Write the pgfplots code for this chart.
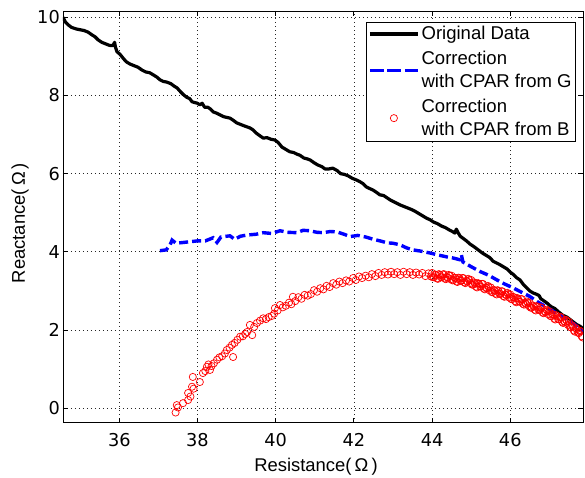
\documentclass[border=0pt]{standalone}
\usepackage{pgfplots}
\pgfplotsset{compat=1.18}
\usepackage{fontspec}
\setmainfont{Liberation Sans}
\newfontfamily\dejavu{DejaVu Sans}
\pgfplotsset{
  longline legend/.style={legend image code/.code={\draw[##1] (0bp,0bp) -- (48bp,0bp);}},
  longdash legend/.style={legend image code/.code={\draw[##1, dash pattern=on 14bp off 3.5bp] (0bp,0bp) -- (48bp,0bp);}},
  circle legend/.style={legend image code/.code={\draw[draw=none] (0bp,0bp) -- (48bp,0bp); \draw[##1] plot coordinates {(24bp,0bp)};}},
}

\begin{document}
\begin{tikzpicture}
\useasboundingbox (-63bp,-55.3bp) rectangle (522bp,422.7bp);
\begin{axis}[
  at={(0,0)}, anchor=south west,
  scale only axis, width=520bp, height=411.7bp,
  xmin=34.56, xmax=47.86, ymin=-0.37, ymax=10.16,
  xtick={36,38,...,46}, ytick={0,2,...,10},
  tick align=inside, major tick length=5bp,
  grid=major,
  major grid style={black!85, line width=0.7bp, dash pattern=on 1.1bp off 2.9bp},
  axis line style={black, line width=0.9bp},
  every tick/.style={black, line width=0.9bp},
  /pgf/number format/assume math mode=true,
  tick label style={font=\dejavu\fontsize{17.8}{20}\selectfont, inner sep=0pt},
  xticklabel style={anchor=base, yshift=-24bp},
  yticklabel style={anchor=east, xshift=-3bp},
  xlabel={Resistance(\,Ω\,)}, ylabel={Reactance(\,Ω\,)},
  label style={font=\fontsize{18.5}{20}\selectfont},
  xlabel style={at={(axis description cs:0.4865,-0.1197)}, anchor=base},
  ylabel style={at={(axis description cs:-0.0827,0.485)}, anchor=center},
  clip marker paths=true,
  legend cell align=left,
  legend style={at={(axis description cs:0.9865,0.973)}, anchor=north east,
    draw=black, line width=0.8bp, fill=white,
    font=\fontsize{18.6}{23}\selectfont,
    nodes={align=left}, inner xsep=2bp, inner ysep=2bp, row sep=6bp},
]
\addplot[black, line width=3.2bp, line join=round, longline legend] coordinates {
(34.56,10.00) (34.62,9.88) (34.70,9.80) (34.78,9.74) (34.90,9.70) (35.00,9.68)
(35.10,9.66) (35.20,9.62) (35.30,9.55) (35.38,9.50) (35.46,9.42) (35.55,9.36)
(35.65,9.32) (35.75,9.28) (35.84,9.28) (35.88,9.36) (35.90,9.24) (35.94,9.12)
(36.02,9.05) (36.10,8.95) (36.18,8.86) (36.28,8.80) (36.38,8.76) (36.48,8.72)
(36.58,8.65) (36.68,8.60) (36.78,8.58) (36.88,8.52) (36.96,8.47) (37.04,8.40)
(37.12,8.36) (37.22,8.34) (37.32,8.30) (37.40,8.24) (37.48,8.19) (37.56,8.10)
(37.64,8.02) (37.73,7.95) (37.80,7.92) (37.86,7.84) (37.92,7.82) (38.00,7.80)
(38.06,7.76) (38.12,7.80) (38.18,7.70) (38.26,7.70) (38.32,7.66) (38.40,7.58)
(38.48,7.55) (38.58,7.50) (38.66,7.46) (38.74,7.44) (38.83,7.42) (38.92,7.36)
(39.00,7.30) (39.10,7.26) (39.20,7.22) (39.34,7.17) (39.42,7.12) (39.50,7.04)
(39.58,6.98) (39.68,6.91) (39.78,6.92) (39.88,6.88) (39.98,6.86) (40.06,6.80)
(40.16,6.68) (40.26,6.62) (40.36,6.56) (40.46,6.54) (40.54,6.50) (40.62,6.47)
(40.72,6.40) (40.80,6.38) (40.88,6.35) (40.98,6.28) (41.08,6.22) (41.18,6.18)
(41.26,6.12) (41.36,6.12) (41.46,6.14) (41.57,6.08) (41.66,6.00) (41.76,5.98)
(41.86,5.94) (41.96,5.88) (42.06,5.84) (42.16,5.79) (42.24,5.74) (42.32,5.66)
(42.40,5.62) (42.49,5.58) (42.58,5.52) (42.66,5.46) (42.76,5.44) (42.85,5.38)
(42.94,5.32) (43.02,5.28) (43.10,5.24) (43.18,5.20) (43.28,5.16) (43.38,5.12)
(43.48,5.08) (43.56,5.04) (43.66,4.98) (43.76,4.92) (43.86,4.86) (43.95,4.82)
(44.04,4.76) (44.14,4.72) (44.24,4.66) (44.34,4.62) (44.44,4.56) (44.52,4.52)
(44.58,4.48) (44.62,4.58) (44.66,4.50) (44.72,4.40) (44.80,4.34) (44.88,4.28)
(44.97,4.20) (45.06,4.14) (45.14,4.08) (45.22,4.02) (45.30,3.96) (45.40,3.90)
(45.48,3.85) (45.56,3.76) (45.64,3.72) (45.72,3.68) (45.82,3.62) (45.92,3.56)
(46.00,3.48) (46.08,3.42) (46.16,3.34) (46.25,3.28) (46.34,3.16) (46.42,3.08)
(46.50,3.00) (46.58,2.95) (46.66,2.92) (46.74,2.88) (46.78,2.80) (46.84,2.76)
(46.94,2.69) (47.04,2.60) (47.14,2.55) (47.24,2.46) (47.34,2.38) (47.45,2.33)
(47.54,2.26) (47.62,2.20) (47.70,2.14) (47.78,2.10) (47.86,2.04)
};
\addlegendentry{Original Data}
\addplot[blue, line width=3.4bp, dash pattern=on 9bp off 4bp, longdash legend] coordinates {
(37.04,4.03) (37.20,4.05) (37.30,4.18) (37.35,4.30) (37.45,4.22) (37.73,4.25)
(38.00,4.28) (38.20,4.28) (38.40,4.36) (38.50,4.24) (38.60,4.38) (38.83,4.41)
(38.95,4.32) (39.10,4.40) (39.27,4.43) (39.50,4.45) (39.68,4.49) (39.90,4.47)
(40.11,4.54) (40.30,4.50) (40.54,4.49) (40.70,4.55) (40.88,4.54) (41.05,4.50)
(41.21,4.49) (41.40,4.52) (41.57,4.51) (41.75,4.45) (41.90,4.39) (42.10,4.42)
(42.30,4.38) (42.50,4.32) (42.67,4.28) (42.85,4.23) (43.00,4.22) (43.18,4.18)
(43.35,4.10) (43.51,4.05) (43.70,4.02) (43.95,3.97) (44.15,3.92) (44.38,3.87)
(44.55,3.84) (44.70,3.80) (44.75,3.92) (44.79,3.74) (45.00,3.62) (45.22,3.50)
(45.45,3.40) (45.66,3.28) (45.85,3.18) (46.07,3.08) (46.30,2.96) (46.50,2.86)
(46.70,2.72) (46.94,2.58) (47.20,2.42) (47.45,2.27) (47.65,2.14) (47.86,1.97)
};
\addlegendentry{Correction\\with CPAR from G}
\addplot[red, only marks, mark=o, mark size=3.6bp, mark options={line width=0.7bp}, circle legend] coordinates {
(37.44,-0.11) (37.47,0.08) (37.50,0.02) (37.63,0.13) (37.76,0.21) (37.76,0.39)
(37.82,0.30) (37.86,0.55) (37.90,0.50) (37.88,0.80) (38.06,0.67) (38.14,0.90)
(38.20,0.95) (38.24,1.06) (38.32,0.98) (38.28,1.12) (38.36,1.08) (38.42,1.15)
(38.50,1.24) (38.56,1.30) (38.63,1.33) (38.70,1.40) (38.75,1.49) (38.82,1.55)
(38.91,1.31) (38.88,1.62) (38.95,1.67) (39.02,1.75) (39.09,1.83) (39.16,1.84)
(39.22,1.90) (39.27,1.95) (39.40,1.87) (39.34,2.13) (39.45,2.08) (39.52,2.18)
(39.60,2.24) (39.68,2.30) (39.75,2.28) (39.82,2.33) (39.90,2.36) (39.98,2.56)
(39.96,2.42) (40.05,2.50) (40.11,2.64) (40.18,2.58) (40.26,2.62) (40.34,2.70)
(40.40,2.66) (40.44,2.85) (40.50,2.74) (40.58,2.84) (40.66,2.80) (40.74,2.90)
(40.82,2.88) (40.90,2.92) (40.98,3.02) (41.06,2.98) (41.14,3.07) (41.22,3.04)
(41.30,3.13) (41.38,3.10) (41.47,3.20) (41.55,3.16) (41.63,3.24) (41.71,3.20)
(41.80,3.27) (41.88,3.24) (41.98,3.33) (42.05,3.28) (42.13,3.37) (42.21,3.33)
(42.30,3.39) (42.38,3.35) (42.46,3.43) (42.55,3.38) (42.63,3.46) (42.71,3.41)
(42.79,3.48) (42.87,3.42) (42.95,3.49) (43.03,3.43) (43.11,3.48) (43.19,3.41)
(43.27,3.49) (43.35,3.43) (43.43,3.48) (43.51,3.41) (43.59,3.47) (43.67,3.42)
(43.75,3.46) (43.83,3.38) (43.91,3.45) (43.97,3.37)
(44.00,3.46) (44.05,3.35) (44.10,3.41) (44.15,3.31) (44.20,3.41) (44.25,3.35)
(44.30,3.43) (44.35,3.30) (44.40,3.34) (44.45,3.39) (44.50,3.39) (44.55,3.28)
(44.60,3.33) (44.65,3.23) (44.70,3.33) (44.75,3.26) (44.80,3.33) (44.85,3.20)
(44.90,3.24) (44.95,3.28) (45.00,3.28) (45.05,3.16) (45.10,3.20) (45.15,3.09)
(45.20,3.18) (45.25,3.11) (45.30,3.18) (45.35,3.04) (45.40,3.07) (45.45,3.10)
(45.50,3.09) (45.55,2.97) (45.60,3.01) (45.65,2.91) (45.70,3.00) (45.75,2.92)
(45.80,2.99) (45.85,2.85) (45.90,2.89) (45.95,2.92) (46.00,2.91) (46.05,2.79)
(46.10,2.83) (46.15,2.71) (46.20,2.80) (46.25,2.72) (46.30,2.79) (46.35,2.65)
(46.40,2.67) (46.45,2.70) (46.50,2.69) (46.55,2.57) (46.60,2.61) (46.65,2.50)
(46.70,2.59) (46.75,2.51) (46.80,2.57) (46.85,2.43) (46.90,2.46) (46.95,2.49)
(47.00,2.48) (47.05,2.35) (47.10,2.39) (47.15,2.27) (47.20,2.35) (47.25,2.27)
(47.30,2.33) (47.35,2.18) (47.40,2.20) (47.45,2.23) (47.50,2.21) (47.55,2.07)
(47.60,2.09) (47.65,1.96) (47.70,2.02) (47.75,1.92) (47.80,1.97) (47.85,1.81)
(44.025,3.35) (44.075,3.42) (44.125,3.32) (44.175,3.43) (44.225,3.35) (44.275,3.42)
(44.325,3.32) (44.375,3.36) (44.425,3.41) (44.475,3.30) (44.525,3.27) (44.575,3.34)
(44.625,3.24) (44.675,3.34) (44.725,3.26) (44.775,3.33) (44.825,3.22) (44.875,3.26)
(44.925,3.31) (44.975,3.20) (45.025,3.16) (45.075,3.22) (45.125,3.11) (45.175,3.20)
(45.225,3.12) (45.275,3.18) (45.325,3.06) (45.375,3.09) (45.425,3.13) (45.475,3.01)
(45.525,2.97) (45.575,3.03) (45.625,2.93) (45.675,3.02) (45.725,2.93) (45.775,2.99)
(45.825,2.87) (45.875,2.91) (45.925,2.95) (45.975,2.83) (46.025,2.79) (46.075,2.85)
(46.125,2.74) (46.175,2.82) (46.225,2.73) (46.275,2.79) (46.325,2.67) (46.375,2.70)
(46.425,2.73) (46.475,2.61) (46.525,2.57) (46.575,2.63) (46.625,2.52) (46.675,2.61)
(46.725,2.52) (46.775,2.58) (46.825,2.45) (46.875,2.48) (46.925,2.52) (46.975,2.40)
(47.025,2.36) (47.075,2.41) (47.125,2.29) (47.175,2.38) (47.225,2.28) (47.275,2.33)
(47.325,2.21) (47.375,2.23) (47.425,2.26) (47.475,2.13) (47.525,2.08) (47.575,2.12)
(47.625,1.99) (47.675,2.05) (47.725,1.94) (47.775,1.98) (47.825,1.84)
};
\addlegendentry{Correction\\with CPAR from B}
\end{axis}
\end{tikzpicture}
\end{document}
